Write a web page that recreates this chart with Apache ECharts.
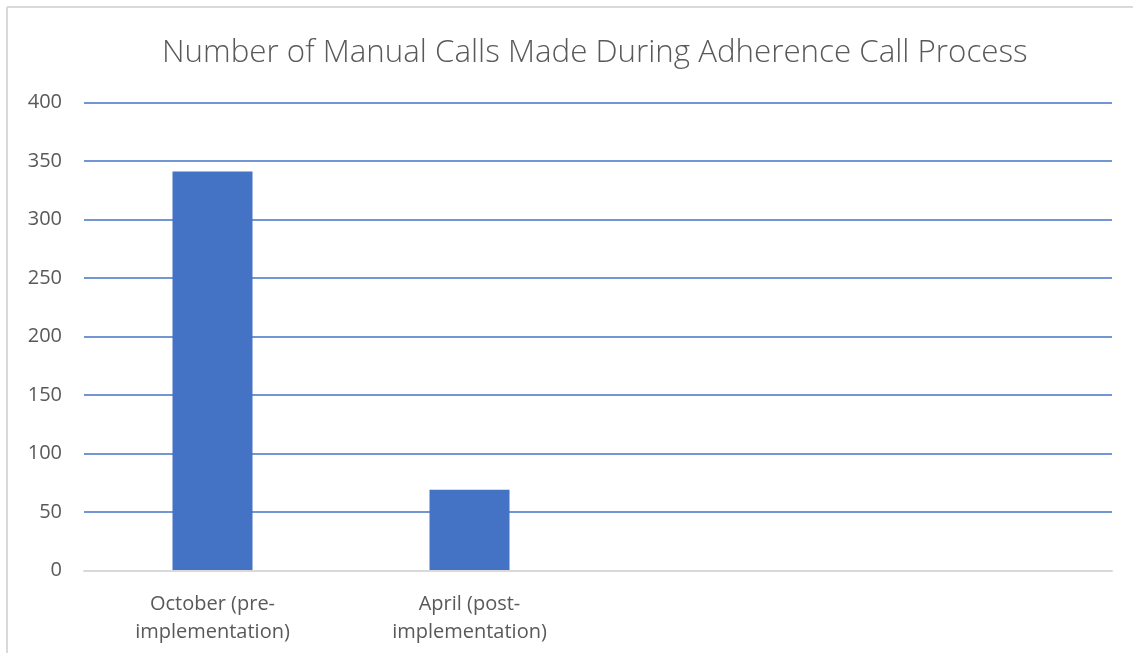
<!DOCTYPE html>
<html>
<head>
<meta charset="utf-8">
<script src="https://cdn.jsdelivr.net/npm/echarts@6/dist/echarts.min.js"></script>
<style>
html,body{margin:0;padding:0;background:#fff;}
#c{width:1133px;height:653px;}
</style>
</head>
<body>
<div id="c"></div>
<script>
const titleText = 'Number of Manual Calls Made During Adherence Call Process';
const categories = ['October (pre-\nimplementation)', 'April (post-\nimplementation)', '', ''];
const manualCalls = [341, 69, null, null];
const yTicks = [0, 50, 100, 150, 200, 250, 300, 350, 400];

const chart = echarts.init(document.getElementById('c'), null, {renderer: 'canvas'});
chart.setOption({
  animation: false,
  backgroundColor: '#fff',
  title: {
    text: titleText,
    left: 157,
    top: 33,
    textStyle: {fontFamily: 'Open Sans', fontWeight: 300, fontSize: 31.3, color: '#595959'}
  },
  graphic: [
    {type: 'line', shape: {x1: 7, y1: 7, x2: 1133, y2: 7}, style: {stroke: '#d9d9d9', lineWidth: 2}, silent: true},
    {type: 'line', shape: {x1: 7, y1: 7, x2: 7, y2: 653}, style: {stroke: '#d9d9d9', lineWidth: 2}, silent: true}
  ],
  grid: {left: 84, right: 21, top: 102.5, bottom: 82.5, containLabel: false},
  xAxis: {
    type: 'category',
    data: categories,
    z: 3,
    axisLine: {lineStyle: {color: '#d9d9d9', width: 2}},
    axisTick: {show: false},
    axisLabel: {fontFamily: 'Open Sans', fontSize: 20, color: '#595959', margin: 20, lineHeight: 28, interval: 0}
  },
  yAxis: {
    type: 'value',
    min: yTicks[0],
    max: yTicks[yTicks.length - 1],
    interval: yTicks[1] - yTicks[0],
    axisLine: {show: false},
    axisTick: {show: false},
    axisLabel: {fontFamily: 'Open Sans', fontSize: 20, color: '#595959', margin: 22},
    splitLine: {lineStyle: {color: '#4472C4', width: 1.5}}
  },
  series: [{
    type: 'bar',
    data: manualCalls,
    barWidth: 80,
    itemStyle: {color: '#4472C4'}
  }]
});
</script>
</body>
</html>
